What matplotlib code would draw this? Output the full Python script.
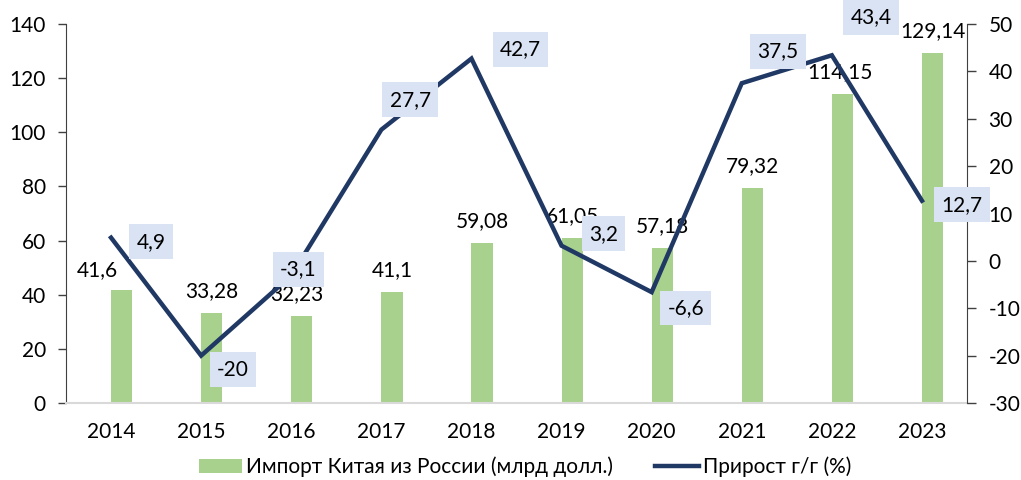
import matplotlib
matplotlib.use("Agg")
import matplotlib.pyplot as plt
from matplotlib.patches import Patch
from matplotlib.lines import Line2D
import numpy as np

plt.rcParams['font.family'] = ['Lato', 'DejaVu Sans']
plt.rcParams['axes.unicode_minus'] = False

years = ['2014', '2015', '2016', '2017', '2018', '2019', '2020', '2021', '2022', '2023']
imports = [41.6, 33.28, 32.23, 41.1, 59.08, 61.05, 57.18, 79.32, 114.15, 129.14]
growth = [4.9, -20, -3.1, 27.7, 42.7, 3.2, -6.6, 37.5, 43.4, 12.7]
bar_label_text = ['41,6', '33,28', '32,23', '41,1', '59,08', '61,05', '57,18', '79,32', '114,15', '129,14']
line_label_text = ['4,9', '-20', '-3,1', '27,7', '42,7', '3,2', '-6,6', '37,5', '43,4', '12,7']
legend_labels = ['Импорт Китая из России (млрд долл.)', 'Прирост г/г (%)']

# label offsets in pixels (style/layout)
line_offsets = [(40, -4), (32, -14), (7, 6), (29, 30), (49, 9), (42, 12), (34, -16), (36, 32), (39, 38), (40, -4)]
bar_offsets = [(-24, 20), (0, 22), (-5, 22), (0, 22), (0, 22), (0, 22), (0, 22), (0, 22), (-2, 22), (0, 22)]

BAR_C = '#a9d18e'
LINE_C = '#203864'
BOX_C = '#dae3f3'
FS = 15

fig = plt.figure(figsize=(10.21, 4.8), dpi=100)
ax = fig.add_axes([66/1021, 1-403/480, (967-66)/1021, (403-24)/480])
x = np.arange(len(years))
bw = 0.235
bars = ax.bar(x, imports, width=bw, align='edge', color=BAR_C, zorder=2)
ax.set_xlim(-0.5, len(years)-0.5)
ax.set_ylim(0, 140)
ax.set_yticks(np.arange(0, 141, 20))
ax.set_xticks(x)
ax.set_xticklabels(years)
ax.tick_params(axis='x', length=0, pad=14, labelsize=FS)
ax.tick_params(axis='y', length=5.5, width=1, pad=9, labelsize=FS, color='#404040')
for s in ['top', 'right']:
    ax.spines[s].set_visible(False)
ax.spines['left'].set_color('#404040')
ax.spines['bottom'].set_color('#d9d9d9')
ax.spines['bottom'].set_linewidth(1.5)

for i, v in enumerate(imports):
    ax.annotate(bar_label_text[i], (x[i] + bw/2, v), xytext=bar_offsets[i],
                textcoords='offset pixels', ha='center', va='center', fontsize=FS,
                color='#000000', zorder=3)

ax2 = ax.twinx()
ax2.set_ylim(-30, 50)
ax2.set_yticks(np.arange(-30, 51, 10))
ax2.plot(x, growth, color=LINE_C, lw=3.2, zorder=3, solid_joinstyle='miter')
ax2.tick_params(axis='y', length=6.5, width=1, pad=9, labelsize=FS, color='#404040')
for s in ['top', 'left', 'bottom']:
    ax2.spines[s].set_visible(False)
ax2.spines['right'].set_color('#404040')
for i, v in enumerate(growth):
    ax2.annotate(line_label_text[i], (x[i], v), xytext=line_offsets[i],
                 textcoords='offset pixels', ha='center', va='center', fontsize=FS,
                 color='#000000', zorder=5,
                 bbox=dict(boxstyle='square,pad=0.35', fc=BOX_C, ec='none'))

handles = [Patch(facecolor=BAR_C, edgecolor='none'),
           Line2D([0], [0], color=LINE_C, lw=3.2)]
fig.legend(handles, legend_labels, loc='center', bbox_to_anchor=(525/1021, 13/480),
           ncol=2, frameon=False, fontsize=FS, handlelength=2.1, handletextpad=0.2,
           columnspacing=2.0)

fig.savefig('out.png', dpi=100)
